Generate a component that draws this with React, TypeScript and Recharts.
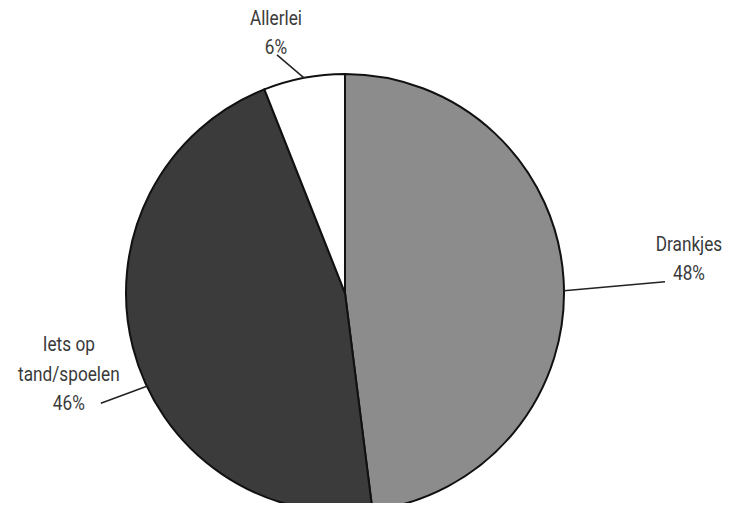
import React from 'react';
import { PieChart, Pie, Cell } from 'recharts';

// slice data, clockwise from 12 o'clock
const categories = ['Drankjes', 'Iets op tand/spoelen', 'Allerlei'];
const shares = [48, 46, 6];
const labelLines = [['Drankjes'], ['Iets op', 'tand/spoelen'], ['Allerlei']];
const sliceColors = ['#8c8c8c', '#3b3b3b', '#ffffff'];

const data = categories.map((name, i) => ({ name, value: shares[i], lines: labelLines[i] }));

// per-label nudges: angle shift of the leader start, leader vector, text offset from leader end
const labelLayout: Record<string, { shift: number; lx: number; ly: number; tx: number; ty: number }> = {
  'Drankjes': { shift: -3, lx: 101, ly: -9, tx: 24, ty: -31 },
  'Iets op tand/spoelen': { shift: 10.8, lx: -46, ly: 17, tx: -32, ty: -52 },
  'Allerlei': { shift: 0, lx: -27, ly: -23, tx: -1, ty: -30 },
};

const RAD = Math.PI / 180;
// the original uses a condensed face; squeeze Roboto horizontally
const SQUEEZE = 0.82;

const renderLabel = (props: any) => {
  const { cx, cy, midAngle, outerRadius, payload, index } = props;
  const name = categories[index];
  const lay = labelLayout[name];
  const a = (midAngle + lay.shift) * RAD;
  const sx = cx + outerRadius * Math.cos(-a);
  const sy = cy + outerRadius * Math.sin(-a);
  const ex = sx + lay.lx;
  const ey = sy + lay.ly;
  const lines: string[] = [...(payload.lines ?? labelLines[index]), `${shares[index]}%`];
  return (
    <g>
      <line x1={sx} y1={sy} x2={ex} y2={ey} stroke="#222" strokeWidth={1.5} />
      <g transform={`translate(${ex + lay.tx},${ey + lay.ty}) scale(${SQUEEZE},1)`}>
        <text
          x={0}
          y={0}
          textAnchor="middle"
          fill="#3a3a3a"
          fontSize={21}
          fontFamily="Roboto, 'Liberation Sans', sans-serif"
        >
          {lines.map((l, i) => (
            <tspan key={i} x={0} dy={i === 0 ? 0 : 29.5}>
              {l}
            </tspan>
          ))}
        </text>
      </g>
    </g>
  );
};

const App: React.FC = () => {
  return (
    <div style={{ margin: -8, width: 732, height: 511, background: '#fff' }}>
      <PieChart width={732} height={511} margin={{ top: 0, right: 0, bottom: 0, left: 0 }}>
        <Pie
          data={data}
          dataKey="value"
          nameKey="name"
          cx={345}
          cy={293}
          outerRadius={219}
          startAngle={90}
          endAngle={-270}
          stroke="#111"
          strokeWidth={2}
          label={renderLabel}
          labelLine={false}
          isAnimationActive={false}
        >
          {data.map((d, i) => (
            <Cell key={d.name} fill={sliceColors[i]} />
          ))}
        </Pie>
      </PieChart>
    </div>
  );
};

export default App;
